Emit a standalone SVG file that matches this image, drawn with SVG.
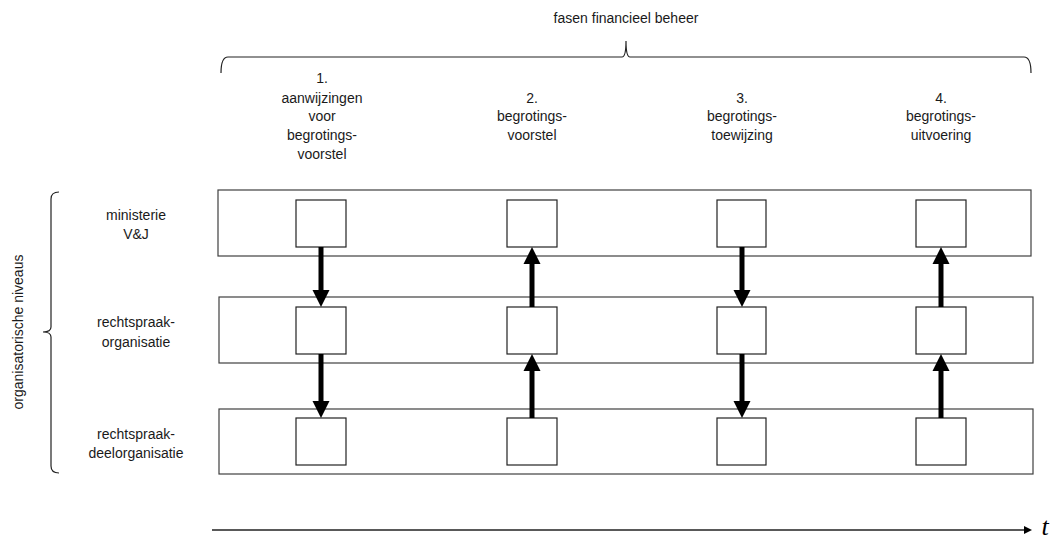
<svg xmlns="http://www.w3.org/2000/svg" width="1057" height="542" viewBox="0 0 1057 542">
<style>
text{font-family:"Liberation Sans",Arial,sans-serif;font-size:14px;fill:#1a1a1a;text-anchor:middle}
.row{fill:#fff;stroke:#404040;stroke-width:1.2}
.box{fill:#fff;stroke:#222;stroke-width:1.2}
.brace{fill:none;stroke:#222;stroke-width:1.2}
.shaft{stroke:#000;stroke-width:5;fill:none}
.head{fill:#000}
</style>
<rect width="1057" height="542" fill="#fff"/>
<g id="title">
<text x="626" y="23">fasen financieel beheer</text>
<path class="brace" d="M221,73 Q221,57 228,57 L622,57 Q626,57 626,41 Q626,57 630,57 L1024,57 Q1031,57 1031,73"/>
</g>
<g id="phase1">
<text x="322" y="83">1.</text>
<text x="322" y="103">aanwijzingen</text>
<text x="322" y="121">voor</text>
<text x="322" y="140">begrotings-</text>
<text x="322" y="159">voorstel</text>
</g>
<g id="phase2">
<text x="532" y="103">2.</text>
<text x="532" y="121">begrotings-</text>
<text x="532" y="140">voorstel</text>
</g>
<g id="phase3">
<text x="742" y="103">3.</text>
<text x="742" y="121">begrotings-</text>
<text x="742" y="140">toewijzing</text>
</g>
<g id="phase4">
<text x="941" y="103">4.</text>
<text x="941" y="121">begrotings-</text>
<text x="941" y="140">uitvoering</text>
</g>
<g id="levels">
<path class="brace" d="M59,192 Q51,192 51,199 L51,327 Q51,332 43,332 Q51,332 51,337 L51,466 Q51,473 59,473"/>
<text transform="translate(23,332) rotate(-90)" style="font-size:14px">organisatorische niveaus</text>
</g>
<g id="row-ministerie">
<rect class="row" x="218" y="190" width="813" height="66"/>
<text x="136" y="220">ministerie</text>
<text x="136" y="239">V&amp;J</text>
<rect class="box" x="296" y="200" width="50" height="47"/>
<rect class="box" x="507" y="200" width="50" height="47"/>
<rect class="box" x="717" y="200" width="49" height="47"/>
<rect class="box" x="916" y="200" width="50" height="47"/>
</g>
<g id="row-rechtspraakorganisatie">
<rect class="row" x="219" y="297" width="814" height="66"/>
<text x="136" y="327">rechtspraak-</text>
<text x="136" y="347">organisatie</text>
<rect class="box" x="296" y="307" width="50" height="47"/>
<rect class="box" x="507" y="307" width="50" height="47"/>
<rect class="box" x="717" y="307" width="49" height="47"/>
<rect class="box" x="916" y="307" width="50" height="47"/>
</g>
<g id="row-deelorganisatie">
<rect class="row" x="219" y="409" width="814" height="65"/>
<text x="136" y="439">rechtspraak-</text>
<text x="136" y="458">deelorganisatie</text>
<rect class="box" x="296" y="418" width="50" height="47"/>
<rect class="box" x="507" y="418" width="50" height="47"/>
<rect class="box" x="717" y="418" width="49" height="47"/>
<rect class="box" x="916" y="418" width="50" height="47"/>
</g>
<g id="connectors">
<line class="shaft" x1="321" y1="247" x2="321" y2="292"/>
<polygon class="head" points="312.5,290 329.5,290 321,307"/>
<line class="shaft" x1="321" y1="354" x2="321" y2="403"/>
<polygon class="head" points="312.5,401 329.5,401 321,418"/>
<line class="shaft" x1="532" y1="307" x2="532" y2="262"/>
<polygon class="head" points="523.5,264 540.5,264 532,247"/>
<line class="shaft" x1="532" y1="418" x2="532" y2="369"/>
<polygon class="head" points="523.5,371 540.5,371 532,354"/>
<line class="shaft" x1="742" y1="247" x2="742" y2="292"/>
<polygon class="head" points="733.5,290 750.5,290 742,307"/>
<line class="shaft" x1="742" y1="354" x2="742" y2="403"/>
<polygon class="head" points="733.5,401 750.5,401 742,418"/>
<line class="shaft" x1="941" y1="307" x2="941" y2="262"/>
<polygon class="head" points="932.5,264 949.5,264 941,247"/>
<line class="shaft" x1="941" y1="418" x2="941" y2="369"/>
<polygon class="head" points="932.5,371 949.5,371 941,354"/>
</g>
<g id="time-axis">
<line x1="212" y1="530" x2="1026" y2="530" stroke="#222" stroke-width="1.5"/>
<polygon points="1024,526 1032,530 1024,534" fill="#000"/>
<text x="1045" y="535" style="font-family:'Liberation Serif',serif;font-style:italic;font-size:26px;fill:#000">t</text>
</g>
</svg>
